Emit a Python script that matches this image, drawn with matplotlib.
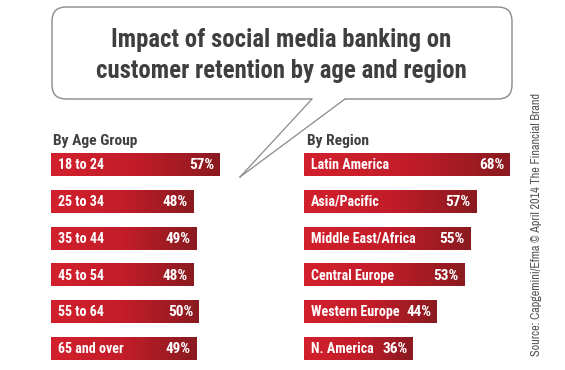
import numpy as np
import matplotlib
matplotlib.use('Agg')
import matplotlib.pyplot as plt
from matplotlib.patches import FancyBboxPatch, Polygon
from matplotlib.lines import Line2D
from matplotlib.colors import LinearSegmentedColormap

# ---- data ----
age_groups = ["18 to 24", "25 to 34", "35 to 44", "45 to 54", "55 to 64", "65 and over"]
age_values = [57, 48, 49, 48, 50, 49]
regions = ["Latin America", "Asia/Pacific", "Middle East/Africa", "Central Europe",
           "Western Europe", "N. America"]
region_values = [68, 57, 55, 53, 44, 36]
title_lines = ["Impact of social media banking on", "customer retention by age and region"]
left_header = "By Age Group"
right_header = "By Region"
source_text = "Source: Capgemini/Efma \u00a9 April 2014 The Financial Brand"

COND = ['Roboto Condensed', 'DejaVu Sans']
NARROW = ['Archivo Narrow', 'Roboto Condensed', 'DejaVu Sans']

W, H = 565, 370
fig = plt.figure(figsize=(W / 100, H / 100), dpi=100)
fig.patch.set_facecolor('white')
renderer = fig.canvas.get_renderer()


def fx(x):
    return x / W


def fy(y):
    return 1 - y / H


def fit_width(t, target_px, horizontal=True):
    for _ in range(3):
        bb = t.get_window_extent(renderer=renderer)
        cur = bb.width if horizontal else bb.height
        t.set_fontsize(t.get_fontsize() * target_px / cur)


# ---- callout box ----
box = FancyBboxPatch((fx(52), fy(99)), fx(512) - fx(52), fy(7) - fy(99),
                     boxstyle="round,pad=0,rounding_size=0.025",
                     transform=fig.transFigure, facecolor='white',
                     edgecolor='#8a8a8a', linewidth=1.0, zorder=1,
                     mutation_aspect=W / H)
fig.patches.append(box)
tail_fill = Polygon([(fx(312), fy(97.5)), (fx(345), fy(97.5)), (fx(345), fy(99)),
                     (fx(240), fy(177)), (fx(312), fy(99))], closed=True,
                    transform=fig.transFigure, facecolor='white', edgecolor='none', zorder=2)
fig.patches.append(tail_fill)
for xa in (312, 345):
    fig.lines.append(Line2D([fx(xa), fx(240)], [fy(99), fy(177)], transform=fig.transFigure,
                            color='#8a8a8a', linewidth=0.9, zorder=3))

title_color = '#3f3f3f'
t1 = fig.text(fx(281), fy(47), title_lines[0], ha='center', va='baseline', fontsize=18,
              family=COND, weight='bold', color=title_color, zorder=4)
t2 = fig.text(fx(281), fy(78), title_lines[1], ha='center', va='baseline', fontsize=18,
              family=COND, weight='bold', color=title_color, zorder=4)
fit_width(t1, 340)
t2.set_fontsize(t1.get_fontsize())

# ---- headers ----
h1 = fig.text(fx(53), fy(145), left_header, ha='left', va='baseline', fontsize=12,
              family=COND, weight='bold', color='#404040')
fit_width(h1, 84)
h2 = fig.text(fx(307), fy(145), right_header, ha='left', va='baseline',
              fontsize=h1.get_fontsize(), family=COND, weight='bold', color='#404040')

# ---- source ----
s = fig.text(fx(537), fy(225), source_text, rotation=90, ha='center', va='center',
             fontsize=8, family=NARROW, color='#555555')
fit_width(s, 264, horizontal=False)

cmap = LinearSegmentedColormap.from_list('redgrad', ['#d3202d', '#c21d29', '#8a1a20'])
grad = np.linspace(0, 1, 256).reshape(1, -1)

pitch = 36.8
bar_h = 23 / pitch
label_fs = 10.1
pct_fs = 11.0


def draw_panel(left_px, scale, xmax, cats, vals):
    width_px = xmax * scale
    top_px = 164.5 - pitch / 2
    height_px = pitch * 6
    ax = fig.add_axes([fx(left_px), fy(top_px + height_px), width_px / W, height_px / H])
    ax.set_axis_off()
    ys = np.arange(len(cats))
    bars = ax.barh(ys, vals, height=bar_h, color='none', edgecolor='none')
    for b, v in zip(bars, vals):
        y0 = b.get_y()
        im = ax.imshow(grad, extent=[0, v, y0 + bar_h, y0], cmap=cmap, aspect='auto',
                       interpolation='bilinear', zorder=2)
        im.set_clip_path(b)
    ax.set_xlim(0, xmax)
    ax.set_ylim(len(cats) - 0.5, -0.5)
    for y, c, v in zip(ys, cats, vals):
        ax.annotate(c, xy=(0, y), xytext=(5, -0.5), textcoords='offset points',
                    ha='left', va='center', color='white', fontsize=label_fs,
                    family=COND, weight='bold', zorder=5)
        ax.annotate(f"{v}%", xy=(v, y), xytext=(-3.8, -0.5),
                    textcoords='offset points', ha='right', va='center',
                    color='white', fontsize=pct_fs, family=COND,
                    weight='heavy', zorder=5)
    return ax


draw_panel(51, 2.96, 72, age_groups, age_values)
draw_panel(304, 3.02, 72, regions, region_values)

fig.savefig('out.png', dpi=100, facecolor='white')
